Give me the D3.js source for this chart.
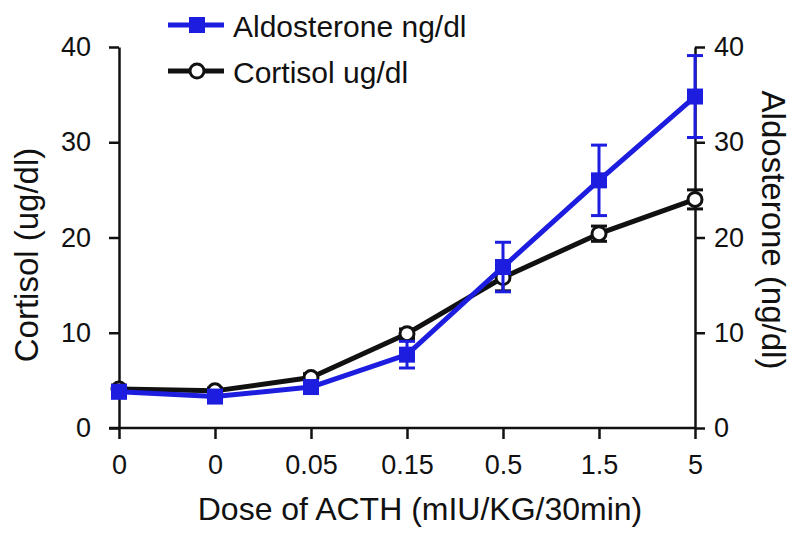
<!DOCTYPE html>
<html><head><meta charset="utf-8">
<script src="https://cdn.jsdelivr.net/npm/d3@7"></script>
<style>body{margin:0;background:#fff}svg{display:block}text{font-family:"Liberation Sans",Arial,sans-serif;fill:#111}</style>
</head><body>
<svg id="c" width="800" height="539"></svg>
<script>
const doseLabels = ["0","0","0.05","0.15","0.5","1.5","5"];
const cortisol = [4.1, 3.9, 5.3, 9.9, 15.8, 20.4, 24.0];
const cortisolErr = [0.4, 0.3, 0.4, 0.5, 1.4, 0.8, 1.0];
const aldosterone = [3.8, 3.3, 4.3, 7.7, 16.9, 26.0, 34.8];
const aldosteroneErr = [0.4, 0.3, 0.4, 1.4, 2.6, 3.7, 4.3];
const leftTicks = [0,10,20,30,40];
const rightTicks = [0,10,20,30,40];

const BLUE = "#1d1de0";
const svg = d3.select("#c");
const idx = doseLabels.map((d,i)=>i);
const x = d3.scalePoint().domain(idx).range([119,695]);
const yL = d3.scaleLinear().domain([0,40]).range([428,47]);
const yR = d3.scaleLinear().domain([0,40]).range([428,47]);

// axes
const gx = svg.append("g").attr("transform","translate(0,428)")
  .call(d3.axisBottom(x).tickFormat(i=>doseLabels[i]).tickSizeInner(11).tickSizeOuter(0).tickPadding(16));
const gl = svg.append("g").attr("transform","translate(119,0)")
  .call(d3.axisLeft(yL).tickValues(leftTicks).tickSizeInner(10).tickSizeOuter(0).tickPadding(18));
const gr = svg.append("g").attr("transform","translate(695,0)")
  .call(d3.axisRight(yR).tickValues(rightTicks).tickSizeInner(10).tickSizeOuter(0).tickPadding(9));
[gx,gl,gr].forEach(g=>{
  g.select(".domain").attr("stroke","#111").attr("stroke-width",2.5);
  g.selectAll(".tick line").attr("stroke","#111").attr("stroke-width",2.5);
  g.selectAll(".tick text").attr("font-size",27).attr("fill","#111").style("font-family","Liberation Sans, Arial, sans-serif");
});
gx.select(".domain").attr("d","M"+(119-10)+",0H695");

// titles
svg.append("text").attr("x",420).attr("y",520).attr("text-anchor","middle").attr("font-size",32)
  .text("Dose of ACTH (mIU/KG/30min)");
svg.append("text").attr("transform","translate(26,255) rotate(-90)").attr("dy","0.35em").attr("text-anchor","middle").attr("font-size",33)
  .text("Cortisol (ug/dl)");
svg.append("text").attr("transform","translate(774,230) rotate(90)").attr("dy","0.35em").attr("text-anchor","middle").attr("font-size",33)
  .text("Aldosterone (ng/dl)");

function series(vals, errs, y, color, marker){
  const g = svg.append("g");
  g.append("path").datum(vals)
    .attr("d", d3.line().x((d,i)=>x(i)).y(d=>y(d)))
    .attr("fill","none").attr("stroke",color).attr("stroke-width",5).attr("stroke-linejoin","round");
  const eb = g.selectAll(".eb").data(vals).join("g");
  eb.append("line").attr("x1",(d,i)=>x(i)).attr("x2",(d,i)=>x(i))
    .attr("y1",(d,i)=>y(d+errs[i])).attr("y2",(d,i)=>y(d-errs[i]))
    .attr("stroke",color).attr("stroke-width",3);
  [1,-1].forEach(s=>{
    eb.append("line").attr("x1",(d,i)=>x(i)-8).attr("x2",(d,i)=>x(i)+8)
      .attr("y1",(d,i)=>y(d+s*errs[i])).attr("y2",(d,i)=>y(d+s*errs[i]))
      .attr("stroke",color).attr("stroke-width",3);
  });
  if(marker==="square"){
    g.selectAll(".m").data(vals).join("rect")
      .attr("x",(d,i)=>x(i)-8).attr("y",d=>y(d)-8).attr("width",16).attr("height",16).attr("fill",color);
  } else {
    g.selectAll(".m").data(vals).join("circle")
      .attr("cx",(d,i)=>x(i)).attr("cy",d=>y(d)).attr("r",7)
      .attr("fill","#fff").attr("stroke",color).attr("stroke-width",3);
  }
}
series(cortisol, cortisolErr, yL, "#111", "circle");
series(aldosterone, aldosteroneErr, yR, BLUE, "square");

// legend
const leg = [{name:"Aldosterone ng/dl",color:BLUE,m:"square",y:25},{name:"Cortisol ug/dl",color:"#111",m:"circle",y:71}];
leg.forEach(l=>{
  svg.append("line").attr("x1",168).attr("x2",224).attr("y1",l.y).attr("y2",l.y).attr("stroke",l.color).attr("stroke-width",5);
  if(l.m==="square") svg.append("rect").attr("x",189).attr("y",l.y-8).attr("width",16).attr("height",16).attr("fill",l.color);
  else svg.append("circle").attr("cx",197).attr("cy",l.y).attr("r",7).attr("fill","#fff").attr("stroke",l.color).attr("stroke-width",3);
  svg.append("text").attr("x",233).attr("y",l.y+12).attr("font-size",30).text(l.name);
});
</script>
</body></html>
